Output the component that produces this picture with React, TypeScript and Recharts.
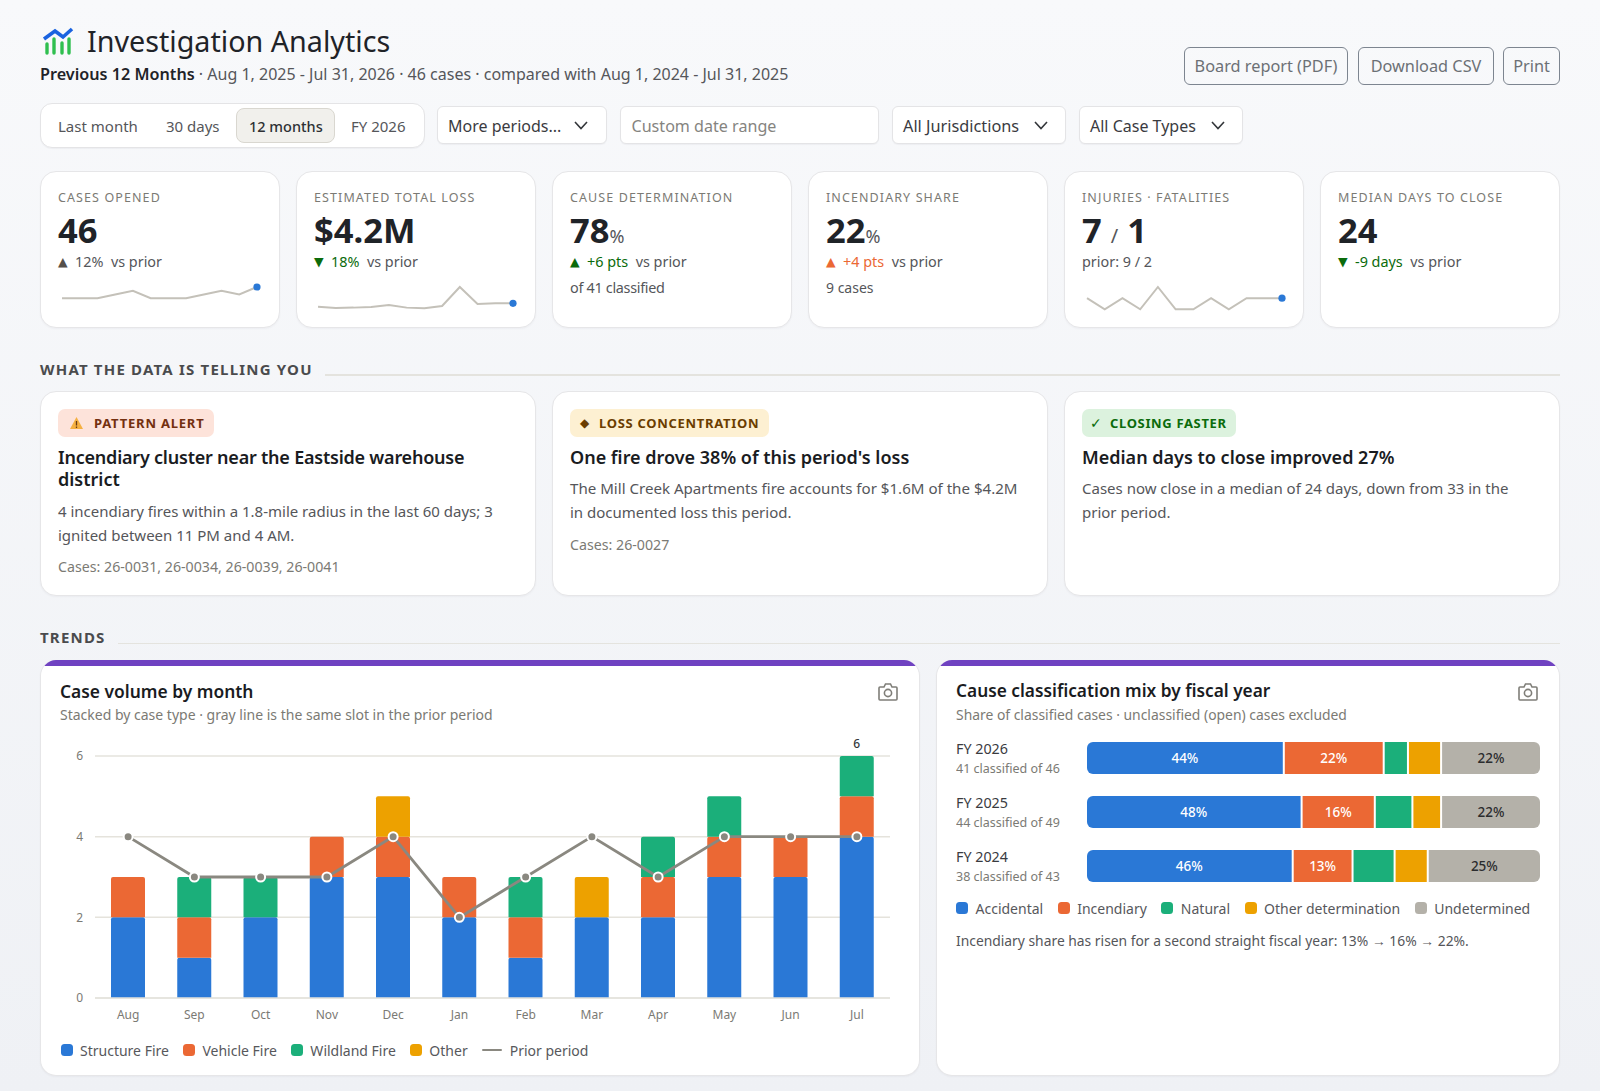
import React from 'react';
import { BarChart, Bar, ComposedChart, LineChart, Line, XAxis, YAxis, CartesianGrid, LabelList, Rectangle } from 'recharts';

const FONT = '"Noto Sans", "Open Sans", sans-serif';
const BLUE = '#2a78d6';
const ORANGE = '#eb6834';
const GREEN = '#1baf7a';
const AMBER = '#eda100';
const STONE = '#b4b1a9';
const INK = '#1f2328';
const MUTED = '#7b7a74';
const BODY = '#55565a';

const months = ['Aug', 'Sep', 'Oct', 'Nov', 'Dec', 'Jan', 'Feb', 'Mar', 'Apr', 'May', 'Jun', 'Jul'];
const structureFire = [2, 1, 2, 3, 3, 2, 1, 2, 2, 3, 3, 4];
const vehicleFire = [1, 1, 0, 1, 1, 1, 1, 0, 1, 1, 1, 1];
const wildlandFire = [0, 1, 1, 0, 0, 0, 1, 0, 1, 1, 0, 1];
const otherFire = [0, 0, 0, 0, 1, 0, 0, 1, 0, 0, 0, 0];
const priorPeriod = [4, 3, 3, 3, 4, 2, 3, 4, 3, 4, 4, 4];
const peakLabel = [null, null, null, null, null, null, null, null, null, null, null, 6];

const fiscalYears = ['FY 2026', 'FY 2025', 'FY 2024'];
const classifiedNotes = ['41 classified of 46', '44 classified of 49', '38 classified of 43'];
const accidental = [44, 48, 46];
const incendiary = [22, 16, 13];
const natural = [5, 8, 9];
const otherDetermination = [7, 6, 7];
const undetermined = [22, 22, 25];

const casesSpark = [3, 3, 3, 4, 5, 3, 3, 3, 4, 5, 4, 6];
const lossSpark = [0.19, 0.1, 0.12, 0.17, 0.31, 0.12, 0.07, 0.24, 1.6, 0.38, 0.43, 0.43];
const injurySpark = [1, 0, 1, 0, 2, 0, 0, 1, 0, 1, 1, 1];

const volumeData = months.map((month, i) => ({
  month,
  structure: structureFire[i],
  vehicle: vehicleFire[i],
  wildland: wildlandFire[i],
  other: otherFire[i],
  prior: priorPeriod[i],
  peak: peakLabel[i],
}));

const mixData = fiscalYears.map((fy, i) => ({
  fy,
  accidental: accidental[i],
  incendiary: incendiary[i],
  natural: natural[i],
  otherDetermination: otherDetermination[i],
  undetermined: undetermined[i],
}));

type TProps = { x: number; y: number; size: number; color?: string; weight?: number; ls?: number; font?: string; children: React.ReactNode };

// y is the vertical centre of the text line
function T({ x, y, size, color = INK, weight = 400, ls = 0, font = FONT, children }: TProps) {
  return (
    <div style={{ position: 'absolute', left: x, top: y - 15, height: 30, lineHeight: '30px', fontSize: size, color, fontWeight: weight, letterSpacing: ls, fontFamily: font, whiteSpace: 'nowrap' }}>
      {children}
    </div>
  );
}

function Box({ x, y, w, h, style, children }: { x: number; y: number; w: number; h: number; style?: React.CSSProperties; children?: React.ReactNode }) {
  return <div style={{ position: 'absolute', left: x, top: y, width: w, height: h, boxSizing: 'border-box', ...style }}>{children}</div>;
}

const cardStyle: React.CSSProperties = { background: '#fff', border: '1px solid #e6e6e8', borderRadius: 16, boxShadow: '0 1px 2px rgba(30,30,40,0.04)' };
const controlStyle: React.CSSProperties = { background: '#fff', border: '1px solid #e4e4e6', borderRadius: 6, boxShadow: '0 1px 1px rgba(30,30,40,0.04)' };

function Chevron({ x, y }: { x: number; y: number }) {
  return (
    <svg style={{ position: 'absolute', left: x, top: y }} width={14} height={9} viewBox="0 0 14 9">
      <path d="M1 1 L7 7.5 L13 1" fill="none" stroke="#33363a" strokeWidth={1.6} />
    </svg>
  );
}

function Camera({ x, y }: { x: number; y: number }) {
  return (
    <svg style={{ position: 'absolute', left: x, top: y }} width={20} height={18} viewBox="0 0 20 18">
      <path d="M1 5 Q1 4 2 4 H6 L7.5 1 H12.5 L14 4 H18 Q19 4 19 5 V16 Q19 17 18 17 H2 Q1 17 1 16 Z" fill="none" stroke="#7f7e78" strokeWidth={1.6} />
      <circle cx={10} cy={10} r={3.6} fill="none" stroke="#7f7e78" strokeWidth={1.6} />
    </svg>
  );
}

function Spark({ x, values }: { x: number; values: number[] }) {
  const data = values.map((v, i) => ({ i, v }));
  const lastDot = (p: any) =>
    p.index === values.length - 1 ? <circle key={p.index} cx={p.cx} cy={p.cy} r={3.6} fill={BLUE} /> : <g key={p.index} />;
  return (
    <div style={{ position: 'absolute', left: x - 5, top: 282 }}>
      <LineChart width={205} height={32.3} data={data} margin={{ top: 5, right: 5, bottom: 5, left: 5 }}>
        <XAxis hide dataKey="i" padding={{ left: 0, right: 0 }} />
        <YAxis hide domain={[0, 'dataMax']} />
        <Line type="linear" dataKey="v" stroke="#c4c1b9" strokeWidth={2} dot={lastDot} activeDot={false} isAnimationActive={false} />
      </LineChart>
    </div>
  );
}

function Legend({ x, y, gap, items }: { x: number; y: number; gap: number; items: { label: string; color: string; line?: boolean }[] }) {
  return (
    <div style={{ position: 'absolute', left: x, top: y - 12, height: 24, display: 'flex', alignItems: 'center', gap, fontFamily: FONT, fontSize: 14, color: '#57585c', whiteSpace: 'nowrap' }}>
      {items.map((it) => (
        <span key={it.label} style={{ display: 'flex', alignItems: 'center', gap: it.line ? 8 : 7.5 }}>
          {it.line ? (
            <span style={{ width: 20, height: 2.5, background: it.color, borderRadius: 1 }} />
          ) : (
            <span style={{ width: 12, height: 12, borderRadius: 3.5, background: it.color }} />
          )}
          {it.label}
        </span>
      ))}
    </div>
  );
}

// the stacked segments sit 2px apart, so the library's rects are squeezed to leave room for 4 gaps
const MIX_LEFT = 131;
const MIX_WIDTH = 453;
const MIX_SQUEEZE = (MIX_WIDTH - 8) / MIX_WIDTH;
const squeezed = (x: number, width: number, k: number) => ({ x: MIX_LEFT + (x - MIX_LEFT) * MIX_SQUEEZE + 2 * k, width: width * MIX_SQUEEZE });

const segment = (k: number, radius: any) => (p: any) => {
  const g = squeezed(p.x, p.width, k);
  return <Rectangle x={g.x} y={p.y} width={g.width} height={p.height} fill={p.fill} radius={radius} />;
};

const segmentLabel = (k: number, color: string, weight: number) => (p: any) => {
  const g = squeezed(p.x, p.width, k);
  return (
    <text x={g.x + g.width / 2} y={p.y + p.height / 2} dy={5} textAnchor="middle" fontSize={13.5} fill={color} fontWeight={weight} fontFamily={FONT}>
      {p.value}%
    </text>
  );
};

function MixTick({ y, payload, index }: any) {
  return (
    <g>
      <text x={0} y={y - 9} dy={5} fontSize={14.3} fill="#3a3b3f" fontFamily={FONT}>{payload.value}</text>
      <text x={0} y={y + 11} dy={4} fontSize={12.5} fill={MUTED} fontFamily={FONT}>{classifiedNotes[index]}</text>
    </g>
  );
}

function Kpi({ x, label }: { x: number; label: string }) {
  return (
    <>
      <Box x={x} y={171} w={240} h={157} style={cardStyle} />
      <T x={x + 18} y={197.5} size={12.5} color={MUTED} ls={1.1}>{label}</T>
    </>
  );
}

const Up = ({ x, color }: { x: number; color: string }) => <T x={x} y={262} size={12.5} color={color} font="DejaVu Sans">▲</T>;
const Down = ({ x, color }: { x: number; color: string }) => <T x={x} y={262} size={12.5} color={color} font="DejaVu Sans">▼</T>;

function Insight({ x }: { x: number }) {
  return <Box x={x} y={391} w={496} h={205} style={cardStyle} />;
}

function ChartCard({ x, w }: { x: number; w: number }) {
  return (
    <Box x={x} y={660} w={w} h={416} style={{ ...cardStyle, borderTop: 0, overflow: 'hidden' }}>
      <div style={{ height: 5.5, margin: '0 -1px', background: '#6f42c1' }} />
    </Box>
  );
}

export default function App() {
  return (
    <div style={{ position: 'relative', width: 1600, height: 1091, overflow: 'hidden', background: 'linear-gradient(180deg,#f8f9fb 0%,#eff1f5 100%)', fontFamily: FONT }}>
      <style>{'body{margin:0}'}</style>

      <svg style={{ position: 'absolute', left: 42, top: 27 }} width={34} height={28} viewBox="0 0 34 28">
        <path d="M2 12 L13 4 L21 10 L30 2" fill="none" stroke="#1a63e0" strokeWidth={3.6} />
        {[[5, 17], [12, 12], [20, 16], [27, 12]].map(([bx, by]) => (
          <line key={bx} x1={bx} x2={bx} y1={by} y2={26} stroke="#2fbf4f" strokeWidth={3.4} strokeLinecap="round" />
        ))}
      </svg>
      <T x={87} y={41} size={28.7}>Investigation Analytics</T>
      <T x={40} y={74} size={16}><b style={{ fontWeight: 600, fontSize: 16.2 }}>Previous 12 Months</b><span style={{ color: BODY }}> · Aug 1, 2025 - Jul 31, 2026 · 46 cases · compared with Aug 1, 2024 - Jul 31, 2025</span></T>

      {[
        { x: 1184, w: 164, label: 'Board report (PDF)' },
        { x: 1358, w: 136, label: 'Download CSV' },
        { x: 1503, w: 57, label: 'Print' },
      ].map((b) => (
        <div key={b.label} style={{ position: 'absolute', left: b.x, top: 47, width: b.w, height: 38, boxSizing: 'border-box', border: '1.5px solid #7d8590', borderRadius: 6, textAlign: 'center', lineHeight: '37px', fontSize: 16.3, color: '#6c7075', whiteSpace: 'nowrap' }}>{b.label}</div>
      ))}

      <Box x={40} y={103} w={385} h={45} style={{ ...controlStyle, borderRadius: 12 }} />
      <Box x={235.5} y={108} w={99} h={35} style={{ background: '#f1f0ec', border: '1px solid #d9d7d0', borderRadius: 8 }} />
      <T x={58} y={126} size={15} color="#55565a">Last month</T>
      <T x={166} y={126} size={15} color="#55565a">30 days</T>
      <T x={249} y={126} size={14.5} color="#2e3034" weight={500}>12 months</T>
      <T x={351} y={126} size={15} color="#55565a">FY 2026</T>

      <Box x={437} y={106} w={170} h={38} style={controlStyle} />
      <T x={448} y={126} size={16} color="#3a3b3f">More periods...</T>
      <Chevron x={574} y={121} />
      <Box x={620} y={106} w={259} h={38} style={controlStyle} />
      <T x={631.5} y={126} size={16.1} color="#85847f">Custom date range</T>
      <Box x={892} y={106} w={174} h={38} style={controlStyle} />
      <T x={903} y={126} size={16.3} color="#3a3b3f">All Jurisdictions</T>
      <Chevron x={1034} y={121} />
      <Box x={1079} y={106} w={164} h={38} style={controlStyle} />
      <T x={1090} y={126} size={16} color="#3a3b3f">All Case Types</T>
      <Chevron x={1211} y={121} />

      <Kpi x={40} label="CASES OPENED" />
      <T x={58} y={230} size={34.5} weight={700}>46</T>
      <Up x={58} color="#55504a" />
      <T x={75} y={262} size={14.4} color={BODY}>12%&nbsp; vs prior</T>
      <Spark x={62} values={casesSpark} />

      <Kpi x={296} label="ESTIMATED TOTAL LOSS" />
      <T x={314} y={230} size={34.5} weight={700}>$4.2M</T>
      <Down x={314} color="#0b6b0b" />
      <T x={331} y={262} size={14.4} color={BODY}><span style={{ color: '#0b6b0b' }}>18%</span>&nbsp; vs prior</T>
      <Spark x={318} values={lossSpark} />

      <Kpi x={552} label="CAUSE DETERMINATION" />
      <T x={570} y={230} size={34.5} weight={700}>78<span style={{ fontSize: 18, fontWeight: 400, color: BODY }}>%</span></T>
      <Up x={570} color="#0b6b0b" />
      <T x={587} y={262} size={14.4} color={BODY}><span style={{ color: '#0b6b0b' }}>+6 pts</span>&nbsp; vs prior</T>
      <T x={570} y={287.5} size={14.4} ls={-0.3} color={BODY}>of 41 classified</T>

      <Kpi x={808} label="INCENDIARY SHARE" />
      <T x={826} y={230} size={34.5} weight={700}>22<span style={{ fontSize: 18, fontWeight: 400, color: BODY }}>%</span></T>
      <Up x={826} color={ORANGE} />
      <T x={843} y={262} size={14.4} color={BODY}><span style={{ color: ORANGE }}>+4 pts</span>&nbsp; vs prior</T>
      <T x={826} y={287.5} size={14} color={BODY}>9 cases</T>

      <Kpi x={1064} label="INJURIES · FATALITIES" />
      <T x={1082} y={230} size={34.5} weight={700}>7 <span style={{ fontSize: 20, fontWeight: 400, color: BODY }}>/</span> 1</T>
      <T x={1082} y={262} size={14.4} color={BODY}>prior: 9 / 2</T>
      <Spark x={1087} values={injurySpark} />

      <Kpi x={1320} label="MEDIAN DAYS TO CLOSE" />
      <T x={1338} y={230} size={34.5} weight={700}>24</T>
      <Down x={1338} color="#0b6b0b" />
      <T x={1355} y={262} size={14.4} color={BODY}><span style={{ color: '#0b6b0b' }}>-9 days</span>&nbsp; vs prior</T>

      <T x={40} y={369} size={15} weight={700} ls={1.2} color="#4a4b4d">WHAT THE DATA IS TELLING YOU</T>
      <Box x={325} y={374} w={1235} h={1.5} style={{ background: '#e4e3de' }} />

      <Insight x={40} />
      <Box x={58} y={409} w={156} h={28} style={{ background: '#fde3da', borderRadius: 7 }} />
      <svg style={{ position: 'absolute', left: 69, top: 416 }} width={15} height={14} viewBox="0 0 15 14">
        <path d="M7.5 1 L14 13 H1 Z" fill="#f5b041" />
        <path d="M7.5 5 V9.5 M7.5 10.6 V12" stroke="#6b3a12" strokeWidth={1.3} />
      </svg>
      <T x={94} y={423} size={13} weight={700} ls={0.8} color="#74300f">PATTERN ALERT</T>
      <T x={58} y={457} size={18} weight={600} ls={-0.22} color="#1a1c1f">Incendiary cluster near the Eastside warehouse</T>
      <T x={58} y={479} size={18} weight={600} color="#1a1c1f">district</T>
      <T x={58} y={511} size={15} color={BODY}>4 incendiary fires within a 1.8-mile radius in the last 60 days; 3</T>
      <T x={58} y={535} size={15} color={BODY}>ignited between 11 PM and 4 AM.</T>
      <T x={58} y={567} size={14.2} color={MUTED}>Cases: 26-0031, 26-0034, 26-0039, 26-0041</T>

      <Insight x={552} />
      <Box x={570} y={409} w={199} h={28} style={{ background: '#fdf0d2', borderRadius: 7 }} />
      <T x={580} y={423} size={12} color="#6b3d00" font="DejaVu Sans">◆</T>
      <T x={599} y={423} size={13} weight={700} ls={0.7} color="#6b3d00">LOSS CONCENTRATION</T>
      <T x={570} y={457} size={18} weight={600} color="#1a1c1f">One fire drove 38% of this period's loss</T>
      <T x={570} y={488} size={15.1} color={BODY}>The Mill Creek Apartments fire accounts for $1.6M of the $4.2M</T>
      <T x={570} y={512} size={15} color={BODY}>in documented loss this period.</T>
      <T x={570} y={545} size={14.2} color={MUTED}>Cases: 26-0027</T>

      <Insight x={1064} />
      <Box x={1082} y={409} w={154} h={28} style={{ background: '#dcf2de', borderRadius: 7 }} />
      <T x={1090} y={423} size={14} color="#0b6b0b" font="DejaVu Sans">✓</T>
      <T x={1110} y={423} size={13} weight={700} ls={0.65} color="#0b6b0b">CLOSING FASTER</T>
      <T x={1082} y={457} size={18} weight={600} color="#1a1c1f">Median days to close improved 27%</T>
      <T x={1082} y={488} size={15} color={BODY}>Cases now close in a median of 24 days, down from 33 in the</T>
      <T x={1082} y={512} size={15} color={BODY}>prior period.</T>

      <T x={40} y={637} size={15} weight={700} ls={1.2} color="#4a4b4d">TRENDS</T>
      <Box x={118} y={642.5} w={1442} h={1.5} style={{ background: '#e4e3de' }} />

      <ChartCard x={40} w={880} />
      <T x={60} y={691} size={17.4} weight={600} color="#1a1c1f">Case volume by month</T>
      <T x={60} y={714.5} size={14} color={MUTED}>Stacked by case type · gray line is the same slot in the prior period</T>
      <Camera x={878} y={683} />

      <div style={{ position: 'absolute', left: 60, top: 730 }}>
        <ComposedChart width={840} height={298} data={volumeData} margin={{ top: 26, right: 10, bottom: 0, left: 0 }} barSize={34}>
          <CartesianGrid vertical={false} stroke="#e5e3dc" strokeWidth={1.5} />
          <XAxis dataKey="month" height={30} axisLine={{ stroke: '#e5e3dc', strokeWidth: 1.5 }} tickLine={false} tick={{ fontSize: 12, fill: MUTED, fontFamily: FONT }} tickMargin={6} />
          <YAxis width={35} domain={[0, 6]} ticks={[0, 2, 4, 6]} axisLine={false} tickLine={false} tick={{ fontSize: 12, fill: MUTED, fontFamily: FONT }} tickMargin={6} />
          <Bar dataKey="structure" stackId="a" fill={BLUE} radius={[2, 2, 0, 0]} isAnimationActive={false} />
          <Bar dataKey="vehicle" stackId="a" fill={ORANGE} radius={[2, 2, 0, 0]} isAnimationActive={false} />
          <Bar dataKey="wildland" stackId="a" fill={GREEN} radius={[2, 2, 0, 0]} isAnimationActive={false}>
            <LabelList dataKey="peak" position="top" offset={8} style={{ fontSize: 12, fill: '#33363a', fontFamily: FONT, fontWeight: 500 }} />
          </Bar>
          <Bar dataKey="other" stackId="a" fill={AMBER} radius={[2, 2, 0, 0]} isAnimationActive={false} />
          <Line type="linear" dataKey="prior" stroke="#8a8880" strokeWidth={2.8} dot={{ r: 4.5, fill: '#8a8880', stroke: '#fff', strokeWidth: 2 }} activeDot={false} isAnimationActive={false} />
        </ComposedChart>
      </div>

      <Legend x={60.5} y={1050} gap={14} items={[
        { label: 'Structure Fire', color: BLUE },
        { label: 'Vehicle Fire', color: ORANGE },
        { label: 'Wildland Fire', color: GREEN },
        { label: 'Other', color: AMBER },
        { label: 'Prior period', color: '#8a8880', line: true },
      ]} />

      <ChartCard x={936} w={624} />
      <T x={956} y={691} size={17.3} weight={600} color="#1a1c1f">Cause classification mix by fiscal year</T>
      <T x={956} y={714.5} size={13.9} color={MUTED}>Share of classified cases · unclassified (open) cases excluded</T>
      <Camera x={1518} y={683} />

      <div style={{ position: 'absolute', left: 956, top: 731 }}>
        <BarChart layout="vertical" width={MIX_LEFT + MIX_WIDTH} height={162} data={mixData} margin={{ top: 0, right: 0, bottom: 0, left: 0 }} barSize={32}>
          <XAxis type="number" hide domain={[0, 100]} />
          <YAxis type="category" dataKey="fy" width={MIX_LEFT} axisLine={false} tickLine={false} tick={<MixTick />} />
          <Bar dataKey="accidental" stackId="m" fill={BLUE} shape={segment(0, [6, 0, 0, 6])} isAnimationActive={false}>
            <LabelList dataKey="accidental" content={segmentLabel(0, '#fff', 500)} />
          </Bar>
          <Bar dataKey="incendiary" stackId="m" fill={ORANGE} shape={segment(1, 0)} isAnimationActive={false}>
            <LabelList dataKey="incendiary" content={segmentLabel(1, '#fff', 500)} />
          </Bar>
          <Bar dataKey="natural" stackId="m" fill={GREEN} shape={segment(2, 0)} isAnimationActive={false} />
          <Bar dataKey="otherDetermination" stackId="m" fill={AMBER} shape={segment(3, 0)} isAnimationActive={false} />
          <Bar dataKey="undetermined" stackId="m" fill={STONE} shape={segment(4, [0, 6, 6, 0])} isAnimationActive={false}>
            <LabelList dataKey="undetermined" content={segmentLabel(4, '#2b2c2e', 500)} />
          </Bar>
        </BarChart>
      </div>

      <Legend x={956} y={908} gap={14.5} items={[
        { label: 'Accidental', color: BLUE },
        { label: 'Incendiary', color: ORANGE },
        { label: 'Natural', color: GREEN },
        { label: 'Other determination', color: AMBER },
        { label: 'Undetermined', color: STONE },
      ]} />
      <T x={956} y={941} size={13.85} color={BODY}>Incendiary share has risen for a second straight fiscal year: 13% → 16% → 22%.</T>
    </div>
  );
}
